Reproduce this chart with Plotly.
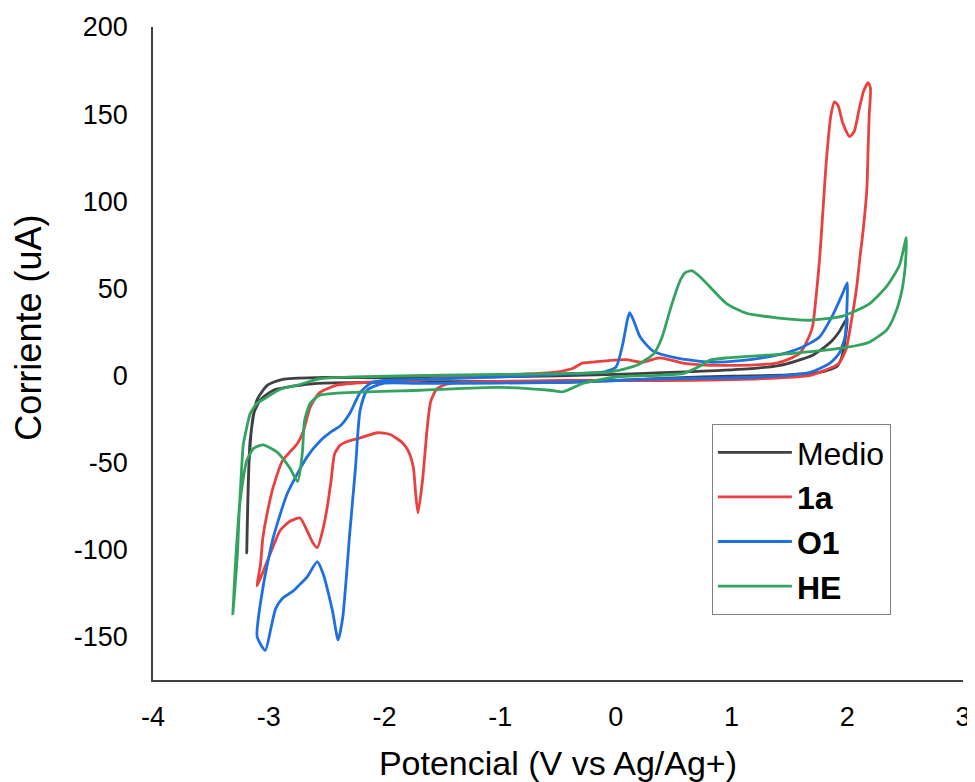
import plotly.graph_objects as go

# ---- Data ----
medio_x = [0.0, 0.5, 1.0, 1.42, 1.6, 1.76, 1.86, 1.91, 1.95, 1.98, 2.0,
           1.93, 1.87, 1.78, 1.70, 1.55, 1.42, 1.2, 0.8, 0.4, 0.0, -0.5, -1.0, -1.5, -2.0, -2.58,
           -2.88, -3.01, -3.10, -3.16, -3.19,
           -3.17, -3.13, -3.07, -2.96, -2.79, -2.58, -2.0, -1.0, -0.4, 0.0]
medio_y = [-3.0, -1.5, -0.5, 0.0, 0.8, 1.7, 3.5, 5.0, 10.0, 20.0, 33.0,
           25.0, 20.0, 15.0, 11.5, 8.0, 5.7, 4.0, 2.5, 1.5, 0.5, -0.3, -0.8, -1.2, -1.5, -1.3,
           -2.3, -5.7, -14.0, -37.0, -102.0,
           -50.0, -22.0, -14.0, -8.6, -6.3, -4.6, -4.0, -3.5, -4.0, -3.0]

a1_x = [0.09, 0.23, 0.38, 0.58, 0.81, 0.96, 1.2, 1.39, 1.52, 1.59, 1.64, 1.70, 1.73, 1.76, 1.79,
        1.82, 1.86, 1.89, 1.92, 1.96, 2.02, 2.06, 2.10, 2.14, 2.18, 2.20, 2.19, 2.18, 2.17,
        2.14, 2.11, 2.08, 2.04, 1.99, 1.93, 1.87, 1.68, 1.24, 0.38, -0.48, -1.0, -1.43, -1.49,
        -1.55, -1.60, -1.63, -1.67, -1.71, -1.73, -1.75, -1.79, -1.84, -1.95, -2.06, -2.21,
        -2.32, -2.38, -2.43, -2.46, -2.49, -2.53, -2.58, -2.62, -2.67, -2.73, -2.82, -2.90,
        -2.96, -3.02, -3.10, -3.07, -3.05, -3.00, -2.96, -2.88, -2.75, -2.70, -2.64, -2.56,
        -2.41, -2.15, -1.72, -1.43, -1.0, -0.5, -0.37, -0.29, -0.2, -0.05, 0.09]
a1_y = [9.0, 7.5, 10.0, 7.0, 5.7, 5.7, 6.0, 7.0, 10.0, 12.6, 18.0, 28.0, 45.0, 66.0, 95.0,
        124.0, 150.0, 157.0, 155.0, 145.0, 137.0, 140.0, 152.0, 163.0, 168.0, 165.0, 150.0, 130.0, 108.0,
        85.0, 68.0, 50.0, 33.0, 15.0, 7.0, 4.6, 0.0, -2.0, -3.0, -3.0, -3.5, -4.6, -5.7,
        -8.0, -15.0, -30.0, -60.0, -79.0, -68.0, -53.0, -44.0, -39.0, -34.0, -33.0, -36.0,
        -38.0, -40.0, -45.0, -60.0, -74.0, -88.0, -99.0, -96.0, -89.0, -82.0, -84.0, -89.0,
        -98.0, -108.0, -121.0, -108.0, -93.0, -75.0, -64.0, -49.0, -39.0, -32.0, -18.0, -10.0,
        -5.7, -4.0, -3.0, -1.0, 0.0, 2.0, 4.0, 7.0, 7.5, 8.6, 9.0]

o1_x = [-0.1, 0.0, 0.06, 0.10, 0.12, 0.15, 0.21, 0.32, 0.52, 0.81, 1.10, 1.39, 1.59, 1.76,
        1.87, 1.96, 2.0, 2.0, 1.98, 1.93, 1.85, 1.68, 1.24, 0.38, 0.0, -0.5, -1.0, -1.72,
        -2.01, -2.15, -2.21, -2.25, -2.30, -2.36, -2.40, -2.45, -2.53, -2.58, -2.67, -2.73,
        -2.79, -2.88, -2.94, -2.98, -3.03, -3.10, -3.05, -3.01, -2.96, -2.84, -2.67, -2.56,
        -2.45, -2.38, -2.30, -2.21, -2.12, -2.0, -1.5, -1.0, -0.5, -0.1]
o1_y = [2.0, 4.6, 18.0, 32.0, 36.0, 32.0, 22.0, 14.0, 10.0, 7.5, 8.6, 11.5, 15.5, 22.0,
        34.0, 47.0, 53.0, 45.0, 22.0, 12.6, 7.0, 1.7, -1.0, -2.0, -3.0, -4.0, -4.5, -4.6,
        -4.6, -8.6, -20.0, -53.0, -91.0, -139.0, -152.0, -135.0, -114.0, -107.0, -116.0, -120.0,
        -124.0, -128.0, -134.0, -145.0, -158.0, -150.0, -122.0, -108.0, -93.0, -68.0, -47.0, -38.0,
        -32.0, -29.0, -22.0, -10.0, -4.6, -3.0, -2.0, -1.0, 0.5, 2.0]

he_x = [-0.05, 0.18, 0.33, 0.40, 0.48, 0.56, 0.60, 0.66, 0.72, 0.81, 0.96, 1.13, 1.39, 1.68,
        1.96, 2.19, 2.34, 2.45, 2.51, 2.50, 2.46, 2.40, 2.34, 2.19, 1.99, 1.53, 0.96, 0.81,
        0.72, 0.58, 0.0, -0.28, -0.46, -0.57, -1.0, -1.69, -2.27, -2.56, -2.64, -2.69, -2.71,
        -2.75, -2.82, -2.93, -3.05, -3.13, -3.19, -3.25, -3.27, -3.31, -3.28, -3.25, -3.22,
        -3.19, -3.16, -3.10, -3.05, -2.90, -2.75, -2.56, -2.27, -1.5, -0.5, -0.05]
he_y = [2.0, 5.7, 12.6, 22.0, 40.0, 55.0, 59.0, 60.0, 57.0, 51.0, 41.0, 35.6, 33.0, 31.6,
        34.0, 41.0, 51.0, 63.0, 79.0, 62.0, 45.0, 33.0, 26.0, 19.0, 16.0, 12.6, 10.0, 8.6,
        5.0, 1.0, -1.0, -4.6, -9.5, -8.6, -7.0, -8.6, -9.8, -11.5, -16.0, -26.0, -45.0,
        -61.0, -53.0, -44.0, -40.0, -42.0, -49.0, -74.0, -102.0, -137.0, -100.0, -72.0, -40.0,
        -30.0, -22.0, -16.0, -14.0, -8.0, -5.7, -2.0, -1.0, 0.0, 1.0, 2.0]

series_names = ["Medio", "<b>1a</b>", "<b>O1</b>", "<b>HE</b>"]
series_colors = ["#404040", "#e8413f", "#1f6fe0", "#33a35f"]

x_ticks = [-4, -3, -2, -1, 0, 1, 2, 3]
y_ticks = [-150, -100, -50, 0, 50, 100, 150, 200]

FONT = "Liberation Sans, Arial, sans-serif"

fig = go.Figure()
for name, color, xs, ys in zip(series_names, series_colors,
                               [medio_x, a1_x, o1_x, he_x],
                               [medio_y, a1_y, o1_y, he_y]):
    fig.add_trace(go.Scatter(x=xs, y=ys, mode="lines", name=name,
                             line=dict(color=color, width=2.8, shape="spline", smoothing=0.6)))

# The page body has an 8px margin, so the figure is 8px smaller than the window.
fig.update_layout(
    width=967, height=774,
    margin=dict(l=145, r=12, t=19, b=102, autoexpand=False),
    paper_bgcolor="white", plot_bgcolor="white",
    font=dict(family=FONT, color="#000000", size=27),
    showlegend=True,
    legend=dict(x=0.69, y=0.392, xanchor="left", yanchor="top",
                bgcolor="white", bordercolor="#808080", borderwidth=1,
                font=dict(size=32, family=FONT, color="#000000"),
                itemwidth=74, tracegroupgap=0),
    xaxis=dict(range=[-4, 3], tickvals=x_ticks, ticktext=[str(v) for v in x_ticks],
               automargin=False,
               showgrid=False, zeroline=False, showline=True, linecolor="#404040", linewidth=1.5,
               ticks="", tickfont=dict(size=27), ticklabelstandoff=12,
               title=dict(text="Potencial (V vs Ag/Ag+)", font=dict(size=34), standoff=28)),
    yaxis=dict(range=[-175, 200], tickvals=y_ticks, ticktext=[str(v) for v in y_ticks],
               automargin=False,
               showgrid=False, zeroline=False, showline=True, linecolor="#404040", linewidth=1.5,
               ticks="", tickfont=dict(size=27), ticklabelstandoff=18),
    annotations=[dict(text="Corriente (uA)", textangle=-90, xref="paper", yref="paper",
                      x=-0.154, y=0.54, xanchor="center", yanchor="middle", showarrow=False,
                      font=dict(size=36, family=FONT, color="#000000"))],
)

fig.write_html("out.html")
